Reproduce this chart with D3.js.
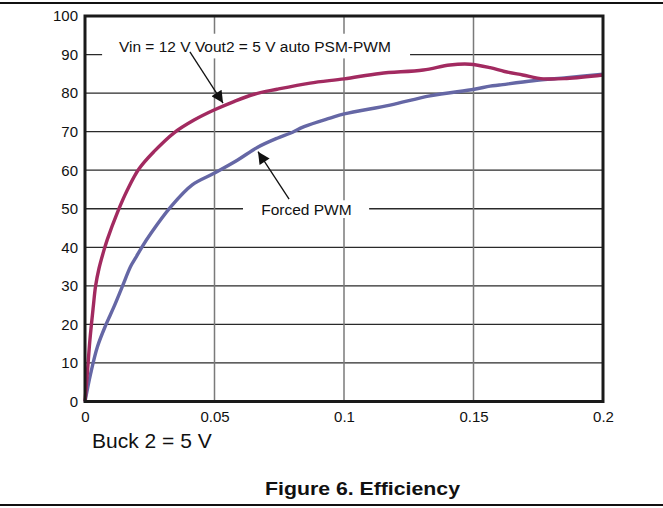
<!DOCTYPE html>
<html>
<head>
<meta charset="utf-8">
<script src="https://cdn.jsdelivr.net/npm/d3@7"></script>
<style>
  html, body { margin: 0; padding: 0; background: #fff; }
  svg { display: block; font-family: "Liberation Sans", Arial, Helvetica, sans-serif; }
</style>
</head>
<body>
<svg id="chart" width="663" height="508"></svg>
<script>
// Output current (A) and efficiency (%) for the two operating modes
const autoCurrent = [0, 0.0009, 0.0019, 0.0032, 0.0041, 0.0054, 0.0073, 0.0086, 0.0125, 0.0163, 0.0208, 0.0266, 0.0344, 0.0421, 0.0498, 0.0575, 0.0653, 0.0742, 0.0869, 0.1001, 0.1139, 0.1306, 0.1409, 0.1486, 0.1564, 0.1620, 0.1690, 0.1770, 0.1860, 0.2000];
const autoEff     = [0, 7.3, 16, 24.6, 30, 34.5, 39.2, 42, 49, 54.8, 60.3, 64.8, 69.7, 73.0, 75.6, 77.8, 79.7, 81.0, 82.6, 83.7, 85.1, 86.0, 87.3, 87.5, 86.6, 85.6, 84.7, 83.7, 83.8, 84.7];

const forcedCurrent = [0, 0.0022, 0.0048, 0.0080, 0.0112, 0.0144, 0.0176, 0.0196, 0.0221, 0.0254, 0.0331, 0.0414, 0.0498, 0.0588, 0.0665, 0.0742, 0.0792, 0.0846, 0.0946, 0.1001, 0.1178, 0.1332, 0.1503, 0.1564, 0.1600, 0.1730, 0.1860, 0.2000];
const forcedEff     = [0, 7.3, 14.2, 19.8, 24.6, 29.8, 35, 37.3, 40.2, 43.6, 50.5, 56.2, 59.2, 62.6, 65.9, 68.3, 69.6, 71.3, 73.5, 74.6, 76.9, 79.3, 81.0, 81.8, 82.1, 83.2, 84.0, 84.9];

const xTicks = [0, 0.05, 0.1, 0.15, 0.2];
const xTickLabels = ["0", "0.05", "0.1", "0.15", "0.2"];
const yTicks = [0, 10, 20, 30, 40, 50, 60, 70, 80, 90, 100];

const autoLabel = "Vin = 12 V Vout2 = 5 V auto PSM-PWM";
const forcedLabel = "Forced PWM";
const subtitle = "Buck 2 = 5 V";
const caption = "Figure 6. Efficiency";

(function draw() {
  const svg = d3.select("#chart");
  const W = 663;
  const pL = 85, pR = 603, pT = 16, pB = 401.5;

  const x = d3.scaleLinear().domain([0, 0.2]).range([pL, pR]);
  const y = d3.scaleLinear().domain([0, 100]).range([pB, pT]);

  // page rules
  svg.append("line").attr("x1", 0).attr("x2", W).attr("y1", 3).attr("y2", 3)
    .attr("stroke", "#111").attr("stroke-width", 2);
  svg.append("line").attr("x1", 0).attr("x2", W).attr("y1", 505).attr("y2", 505)
    .attr("stroke", "#111").attr("stroke-width", 2);

  // grid
  const grid = svg.append("g");
  grid.selectAll("line.h").data(yTicks.filter(v => v > 0 && v < 100)).join("line")
    .attr("class", "h")
    .attr("x1", pL).attr("x2", pR)
    .attr("y1", d => y(d)).attr("y2", d => y(d))
    .attr("stroke", "#2a2a2a").attr("stroke-width", 1.3);
  grid.selectAll("line.v").data(xTicks.filter(v => v > 0 && v < 0.2)).join("line")
    .attr("class", "v")
    .attr("y1", pT).attr("y2", pB)
    .attr("x1", d => x(d)).attr("x2", d => x(d))
    .attr("stroke", "#7a7a7a").attr("stroke-width", 1.5);

  // white backing behind the in-plot labels
  const autoPos = [0.0656, 92.0];
  const forcedPos = [0.0855, 49.9];
  svg.append("rect")
    .attr("x", x(0.0066)).attr("width", x(0.1255) - x(0.0066))
    .attr("y", y(95.4)).attr("height", y(89.0) - y(95.4))
    .attr("fill", "#fff");
  svg.append("rect")
    .attr("x", x(0.0610)).attr("width", x(0.1097) - x(0.0610))
    .attr("y", y(52.2)).attr("height", y(47.6) - y(52.2))
    .attr("fill", "#fff");

  // curves
  const line = d3.line().x(d => x(d[0])).y(d => y(d[1])).curve(d3.curveCatmullRom.alpha(0.5));
  svg.append("path")
    .datum(forcedCurrent.map((c, i) => [c, forcedEff[i]]))
    .attr("d", line).attr("fill", "none")
    .attr("stroke", "#6567a5").attr("stroke-width", 3.4).attr("stroke-linejoin", "round");
  svg.append("path")
    .datum(autoCurrent.map((c, i) => [c, autoEff[i]]))
    .attr("d", line).attr("fill", "none")
    .attr("stroke", "#a22a60").attr("stroke-width", 3.4).attr("stroke-linejoin", "round");

  // annotation arrows
  const defs = svg.append("defs");
  defs.append("marker").attr("id", "head")
    .attr("viewBox", "0 0 10 10").attr("refX", 10).attr("refY", 5)
    .attr("markerWidth", 15).attr("markerHeight", 12).attr("markerUnits", "userSpaceOnUse")
    .attr("orient", "auto")
    .append("path").attr("d", "M0,0 L10,5 L0,10 Z").attr("fill", "#111");

  const arrows = [
    { from: [0.0405, 90.7], to: [0.0533, 77.4] },
    { from: [0.0788, 52.5], to: [0.0668, 64.8] }
  ];
  svg.selectAll("line.arrow").data(arrows).join("line")
    .attr("class", "arrow")
    .attr("x1", d => x(d.from[0])).attr("y1", d => y(d.from[1]))
    .attr("x2", d => x(d.to[0])).attr("y2", d => y(d.to[1]))
    .attr("stroke", "#111").attr("stroke-width", 1.3)
    .attr("marker-end", "url(#head)");

  svg.append("text").attr("x", x(autoPos[0])).attr("y", y(autoPos[1]))
    .attr("text-anchor", "middle").attr("dy", "0.35em")
    .attr("font-size", 15.5).attr("fill", "#111").text(autoLabel);
  svg.append("text").attr("x", x(forcedPos[0])).attr("y", y(forcedPos[1]))
    .attr("text-anchor", "middle").attr("dy", "0.35em")
    .attr("font-size", 15.5).attr("fill", "#111").text(forcedLabel);

  // axes (labels only)
  const yAxis = svg.append("g").attr("transform", `translate(${pL},0)`)
    .call(d3.axisLeft(y).tickValues(yTicks).tickSize(0).tickPadding(7));
  const xAxis = svg.append("g").attr("transform", `translate(0,${pB})`)
    .call(d3.axisBottom(x).tickValues(xTicks).tickFormat((d, i) => xTickLabels[i]).tickSize(0).tickPadding(10));
  [yAxis, xAxis].forEach(g => {
    g.select(".domain").remove();
    g.selectAll("text").attr("font-size", 15).attr("fill", "#111")
      .attr("font-family", "'Liberation Sans', Arial, sans-serif");
  });

  // frame
  svg.append("rect").attr("x", pL).attr("y", pT)
    .attr("width", pR - pL).attr("height", pB - pT)
    .attr("fill", "none").attr("stroke", "#1a1a1a").attr("stroke-width", 3);

  svg.append("text").attr("x", 92).attr("y", 448)
    .attr("font-size", 21).attr("fill", "#111").text(subtitle);

  svg.append("text").attr("x", 265).attr("y", 495)
    .attr("font-size", 18).attr("font-weight", "bold").attr("fill", "#111")
    .attr("textLength", 195).attr("lengthAdjust", "spacingAndGlyphs")
    .text(caption);
})();
</script>
</body>
</html>
